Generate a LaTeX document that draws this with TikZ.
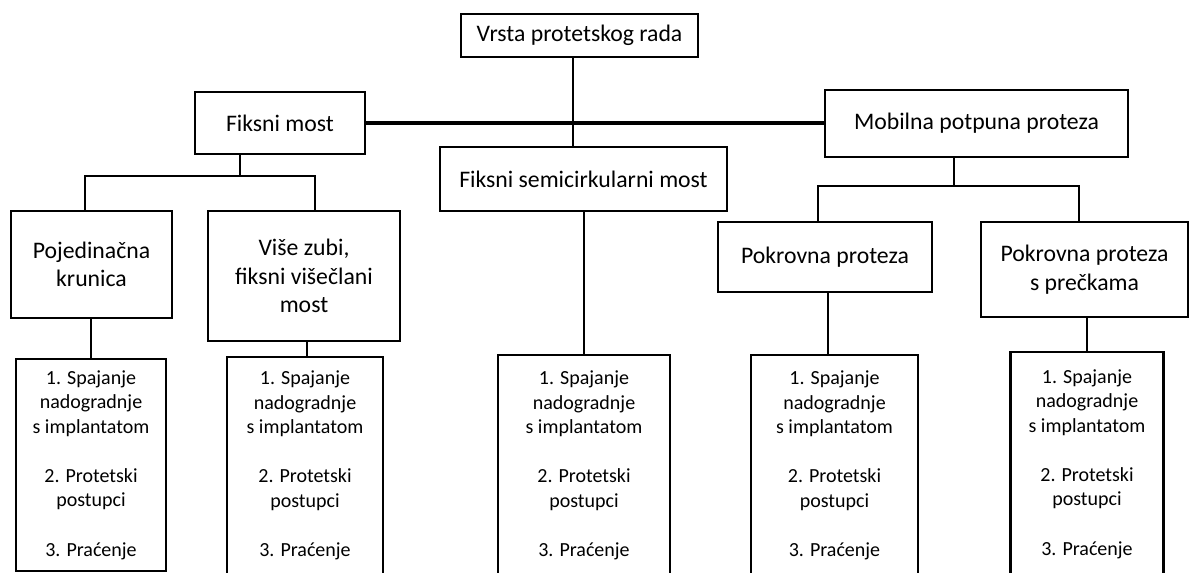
\documentclass[tikz,border=0pt]{standalone}
\usepackage{fontspec}
\setmainfont{Carlito}
\newcommand{\postupak}{1. Spajanje\\nadogradnje\\s implantatom\\[18.4pt]2. Protetski\\postupci\\[18.4pt]3. Praćenje}
\tikzset{sz/.style 2 args={minimum width=#1*0.75pt, minimum height=#2*0.75pt}}
\begin{document}
\begin{tikzpicture}[x=0.75pt, y=-0.75pt,
  every node/.style={draw, align=center, inner sep=0pt},
  upper/.style={line width=2.2pt, font=\fontsize{17.8}{21.5}\selectfont},
  lower/.style={line width=2pt, font=\fontsize{15}{18.4}\selectfont},
  link/.style={line width=1.8pt}]
\useasboundingbox (0,0) rectangle (1190,573);
\node [upper,sz={237}{43}] (vrsta) at (579.5,35.5) {Vrsta protetskog rada};
\node [upper,sz={170}{62}] (fiksni) at (280,123) {Fiksni most};
\node [upper,sz={303}{67}] (mobilna) at (976.5,123.5) {Mobilna potpuna proteza};
\node [upper,sz={287}{64}] (semi) at (583.5,179) {Fiksni semicirkularni most};
\node [upper,sz={161}{107}] (krunica) at (91.5,264.5) {Pojedinačna\\krunica};
\node [upper,sz={192}{130}] (visezubi) at (304,276) {Više zubi,\\fiksni višečlani\\most};
\node [upper,sz={214}{70}] (pokrovna) at (825,257) {Pokrovna proteza};
\node [upper,sz={207}{95}] (preckama) at (1084.5,269.5) {Pokrovna proteza\\s prečkama};
\node [lower,sz={150}{212}] (l1) at (91,465) {\postupak};
\node [lower,sz={156}{217}] (l2) at (305,465.5) {\postupak};
\node [lower,sz={172}{221}] (l3) at (584,465.5) {\postupak};
\node [lower,sz={167}{221}] (l4) at (834.5,465.5) {\postupak};
\node [lower,sz={153}{224}] (l5) at (1087,464) {\postupak};
\coordinate (trunk) at (573,0);
\coordinate (fm) at (240,176);
\coordinate (fmL) at (85,0);
\coordinate (fmR) at (315,0);
\coordinate (mp) at (954,186);
\coordinate (mpL) at (818,0);
\coordinate (mpR) at (1079,0);
\coordinate (p2) at (307,0);
\coordinate (p4) at (828,0);
\draw [line width=2.5pt] (fiksni.east) -- (fiksni.east -| mobilna.west);
\draw [link] (vrsta.south -| trunk) -- (semi.north -| trunk);
\draw [link] (fiksni.south -| fm) -- (fm);
\draw [link] (krunica.north -| fmL) |- (fm) -| (visezubi.north -| fmR);
\draw [link] (mobilna.south -| mp) -- (mp);
\draw [link] (pokrovna.north -| mpL) |- (mp) -| (preckama.north -| mpR);
\draw [link] (krunica.south -| l1.north) -- (l1.north);
\draw [link] (visezubi.south -| p2) -- (l2.north -| p2);
\draw [link] (semi.south -| l3.north) -- (l3.north);
\draw [link] (pokrovna.south -| p4) -- (l4.north -| p4);
\draw [link] (preckama.south -| l5.north) -- (l5.north);
\end{tikzpicture}
\end{document}
